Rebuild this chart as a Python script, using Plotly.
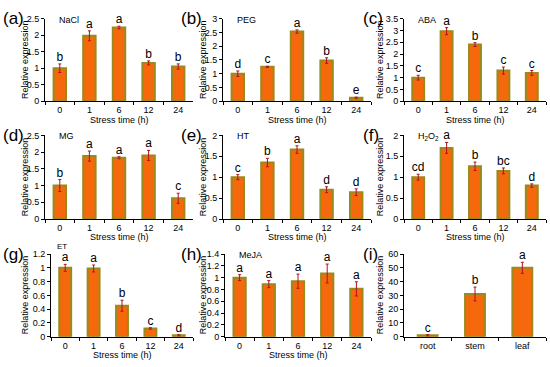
import plotly.graph_objects as go

W, H = 550, 367

time_cats = ["0", "1", "6", "12", "24"]
tissue_cats = ["root", "stem", "leaf"]

panel_labels = ["(a)", "(b)", "(c)", "(d)", "(e)", "(f)", "(g)", "(h)", "(i)"]
treatments = ["NaCl", "PEG", "ABA", "MG", "HT", "H<sub>2</sub>O<sub>2</sub>", "ET", "MeJA", ""]
x_title = "Stress time (h)"
y_title = "Relative expression"

nacl_vals = [1.0, 1.98, 2.23, 1.16, 1.05]
nacl_err = [0.13, 0.15, 0.04, 0.06, 0.08]
nacl_sig = ["b", "a", "a", "b", "b"]

peg_vals = [1.0, 1.25, 2.53, 1.48, 0.13]
peg_err = [0.10, 0.02, 0.06, 0.10, 0.02]
peg_sig = ["d", "c", "a", "b", "e"]

aba_vals = [1.0, 2.97, 2.40, 1.30, 1.20]
aba_err = [0.10, 0.15, 0.08, 0.15, 0.10]
aba_sig = ["c", "a", "b", "c", "c"]

mg_vals = [1.0, 1.88, 1.83, 1.90, 0.62]
mg_err = [0.18, 0.15, 0.03, 0.15, 0.15]
mg_sig = ["b", "a", "a", "a", "c"]

ht_vals = [1.0, 1.35, 1.66, 0.70, 0.64]
ht_err = [0.06, 0.10, 0.09, 0.07, 0.08]
ht_sig = ["c", "b", "a", "d", "d"]

h2o2_vals = [1.0, 1.70, 1.26, 1.15, 0.80]
h2o2_err = [0.07, 0.13, 0.10, 0.07, 0.04]
h2o2_sig = ["cd", "a", "b", "bc", "d"]

et_vals = [1.0, 0.99, 0.45, 0.12, 0.02]
et_err = [0.05, 0.05, 0.08, 0.01, 0.01]
et_sig = ["a", "a", "b", "c", "d"]

meja_vals = [1.0, 0.89, 0.94, 1.07, 0.81]
meja_err = [0.05, 0.06, 0.12, 0.16, 0.12]
meja_sig = ["a", "a", "a", "a", "a"]

tissue_vals = [1.0, 31.0, 50.0]
tissue_err = [0.5, 5.0, 4.0]
tissue_sig = ["c", "b", "a"]

y_max = [2.5, 3, 3.5, 2.5, 2, 2, 1.2, 1.4, 60]
y_step = [0.5, 0.5, 0.5, 0.5, 0.5, 0.5, 0.2, 0.2, 10]

panels = [
    (time_cats, nacl_vals, nacl_err, nacl_sig),
    (time_cats, peg_vals, peg_err, peg_sig),
    (time_cats, aba_vals, aba_err, aba_sig),
    (time_cats, mg_vals, mg_err, mg_sig),
    (time_cats, ht_vals, ht_err, ht_sig),
    (time_cats, h2o2_vals, h2o2_err, h2o2_sig),
    (time_cats, et_vals, et_err, et_sig),
    (time_cats, meja_vals, meja_err, meja_sig),
    (tissue_cats, tissue_vals, tissue_err, tissue_sig),
]

# pixel layout
col_x = [(45, 193), (223, 371), (404, 546)]
row_y = [(14, 99), (134, 220), (256, 341)]
xdom_override = {6: (51, 193), 7: (225, 371)}
ytitle_x = [25, 203, 380]

BAR_FILL = "#F5690C"
BAR_EDGE = "#9A8A1E"
ERR_COL = "#B01020"
FONT = "Liberation Sans, Arial, sans-serif"

fig = go.Figure()
layout = dict(
    width=W, height=H, margin=dict(l=0, r=0, t=0, b=0),
    paper_bgcolor="white", plot_bgcolor="white", showlegend=False,
    bargap=0.58, font=dict(family=FONT, color="black", size=9),
)
annotations = []

def fx(px):
    return px / W

def fy(py):
    return 1 - py / H

for i, (cats, vals, errs, sig) in enumerate(panels):
    r, c = divmod(i, 3)
    x0, x1 = xdom_override.get(i, col_x[c])
    y0, y1 = row_y[r]
    n = i + 1
    xa = "x" if n == 1 else f"x{n}"
    ya = "y" if n == 1 else f"y{n}"
    fig.add_trace(go.Bar(
        x=cats, y=vals, xaxis=xa, yaxis=ya,
        marker=dict(color=BAR_FILL, line=dict(color=BAR_EDGE, width=2)),
        error_y=dict(type="data", array=errs, color=ERR_COL, thickness=1, width=1.5),
    ))
    fig.add_trace(go.Scatter(
        x=cats, y=[v + e for v, e in zip(vals, errs)], xaxis=xa, yaxis=ya,
        mode="text", text=sig, textposition="top center",
        textfont=dict(size=12, color="black", family=FONT), cliponaxis=False,
    ))
    ticks = []
    t = 0.0
    while t <= y_max[i] + 1e-9:
        ticks.append(round(t, 2))
        t += y_step[i]
    layout["xaxis" if n == 1 else f"xaxis{n}"] = dict(
        domain=[fx(x0), fx(x1)], anchor=ya, type="category",
        showline=True, linecolor="black", linewidth=1,
        ticks="outside", ticklen=3, tickcolor="black", tickson="boundaries",
        tickfont=dict(size=9), showgrid=False, zeroline=False,
        range=[-0.5, len(cats) - 0.5],
    )
    layout["yaxis" if n == 1 else f"yaxis{n}"] = dict(
        domain=[fy(y1), fy(y0)], anchor=xa, range=[0, y_max[i]],
        tickvals=ticks, ticktext=[("%g" % v) for v in ticks],
        showline=True, linecolor="black", linewidth=1,
        ticks="outside", ticklen=3, tickcolor="black",
        tickfont=dict(size=9), showgrid=False, zeroline=False,
    )
    annotations.append(dict(
        text=y_title, x=fx(ytitle_x[c]), y=fy((y0 + y1) / 2), xref="paper", yref="paper",
        xanchor="center", yanchor="middle", showarrow=False, textangle=-90,
        font=dict(size=9, family=FONT, color="black"),
    ))
    if i < 8:
        annotations.append(dict(
            text=x_title, x=fx((x0 + x1) / 2), y=fy(y1 + 19), xref="paper", yref="paper",
            xanchor="center", yanchor="middle", showarrow=False,
            font=dict(size=9, family=FONT, color="black"),
        ))
    # panel label
    lx = [1, 179, 361][c]
    annotations.append(dict(
        text=panel_labels[i], x=fx(lx), y=fy(y0), xref="paper", yref="paper",
        xanchor="left", yanchor="middle", showarrow=False,
        font=dict(size=17, family=FONT, color="black"),
    ))
    if treatments[i]:
        if i == 6:
            tx, ty, fs = x0 + 4, y0 - 8, 8
        else:
            tx, ty, fs = x0 + 12, y0 + 1, 9
        annotations.append(dict(
            text=treatments[i], x=fx(tx), y=fy(ty), xref="paper", yref="paper",
            xanchor="left", yanchor="middle", showarrow=False,
            font=dict(size=fs, family=FONT, color="black"),
        ))

layout["annotations"] = annotations
fig.update_layout(**layout)
fig.write_html("out.html", config={"displayModeBar": False},
               post_script="document.body.style.margin='0';document.body.style.padding='0';")
